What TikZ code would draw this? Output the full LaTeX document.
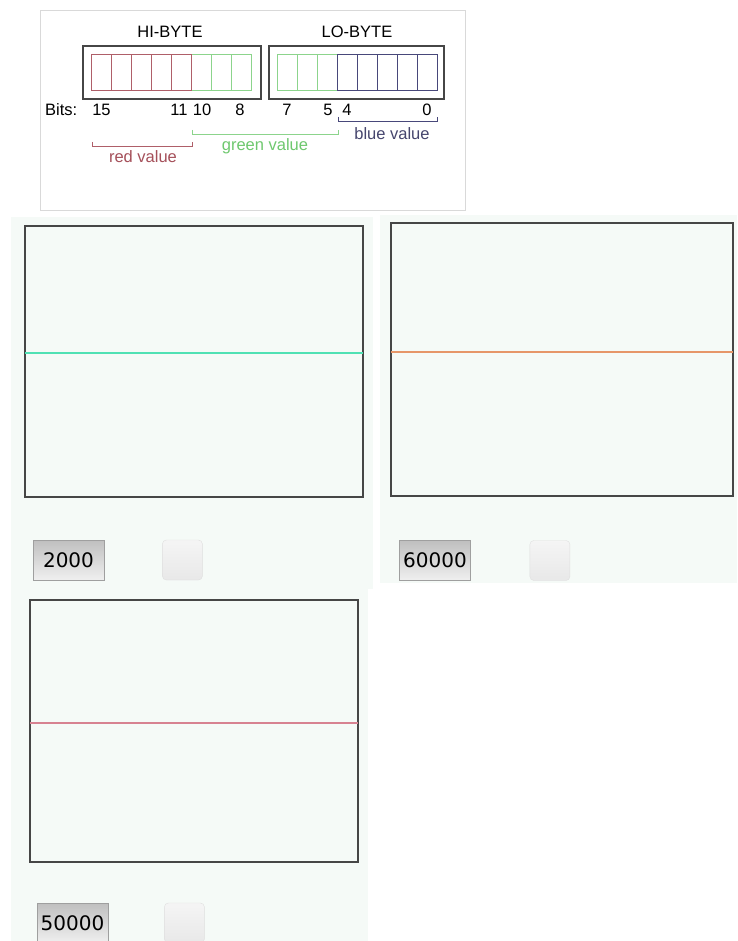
\documentclass[tikz,border=0pt]{standalone}
\usepackage{fontspec}
\setmainfont{Liberation Sans}
\newfontfamily\btnfont{DejaVu Sans}
\usetikzlibrary{positioning}

\definecolor{redbit}{RGB}{175,95,105}
\definecolor{greenbit}{RGB}{140,212,140}
\definecolor{bluebit}{RGB}{72,72,122}
\definecolor{redtxt}{RGB}{165,80,90}
\definecolor{greentxt}{RGB}{110,200,110}
\definecolor{bluetxt}{RGB}{70,70,110}
\definecolor{panelbg}{RGB}{245,250,247}
\definecolor{framegray}{RGB}{70,70,70}
\definecolor{traceA}{RGB}{80,225,180}
\definecolor{traceB}{RGB}{230,150,105}
\definecolor{traceC}{RGB}{215,130,145}

\begin{document}
\begin{tikzpicture}[x=1pt,y=-1pt,
  lbl/.style={inner sep=0pt,anchor=base,font=\fontsize{16.5}{19}\selectfont},
  bytelbl/.style={inner sep=0pt,anchor=base,font=\fontsize{16.5}{19}\selectfont},
  chart/.style={draw=framegray,fill=panelbg,line width=1.1pt},
  trace/.style={line width=1.4pt},
  valbtn/.style={draw=gray!75,top color=gray!50,bottom color=gray!12,
    minimum width=71pt,minimum height=40pt,inner sep=0pt,
    font=\btnfont\fontsize{20}{24}\selectfont},
  sqbtn/.style={draw=gray!25,rounded corners=4pt,top color=gray!8,bottom color=gray!18,
    minimum width=40pt,minimum height=40pt,inner sep=0pt}]
  \useasboundingbox[fill=white] (0,0) rectangle (737,941);

  % bit layout picture
  \draw[gray!30,fill=white] (40,10) rectangle (465,210);
  \draw[framegray,line width=1.2pt] (83,46) rectangle (261,99);
  \draw[framegray,line width=1.2pt] (269,46) rectangle (444,99);
  \foreach \i in {5,6,7} \draw[greenbit,line width=0.9pt] ({91+20*\i},54) rectangle ++(20,36);
  \foreach \i in {0,1,2} \draw[greenbit,line width=0.9pt] ({277+20*\i},54) rectangle ++(20,36);
  \foreach \i in {0,...,4} \draw[redbit,line width=0.9pt] ({91+20*\i},54) rectangle ++(20,36);
  \foreach \i in {3,...,7} \draw[bluebit,line width=0.9pt] ({277+20*\i},54) rectangle ++(20,36);
  \node[bytelbl] (hi) at (170,37.5) {HI-BYTE};
  \node[bytelbl] (lo) at (357,37.5) {LO-BYTE};
  \node[lbl,anchor=base west] (bits) at (45,115.5) {Bits:};
  \foreach \x/\n in {101.5/15,179/11,202/10,240/8,287/7,328/5,347/4,427/0}
    \node[lbl] (b\n) at (\x,115.5) {\n};
  \draw[bluebit,line width=1pt] (338,117) |- (437,122) -- (437,117);
  \draw[greenbit,line width=1pt] (192,130) |- (338,135) -- (338,130);
  \draw[redbit,line width=1pt] (92,142) |- (192,147) -- (192,142);
  \node[lbl,text=bluetxt] (blue) at (392,140) {blue value};
  \node[lbl,text=greentxt] (green) at (265,151) {green value};
  \node[lbl,text=redtxt] (red) at (143,162.5) {red value};

  % first panel
  \fill[panelbg] (11,217) rectangle (373,589);
  \draw[chart] (25,226) rectangle (363,497);
  \draw[trace,traceA] (25,353) -- (363,353);
  \node[valbtn] (btnA) at (68.5,560) {2000};
  \node[sqbtn,right=58pt of btnA] (sqA) {};

  % second panel
  \fill[panelbg] (380,215) rectangle (737,583);
  \draw[chart] (391,223) rectangle (733,496);
  \draw[trace,traceB] (391,352) -- (733,352);
  \node[valbtn] (btnB) at (435,560.5) {60000};
  \node[sqbtn,right=59pt of btnB] (sqB) {};

  % third panel
  \fill[panelbg] (11,589) rectangle (368,941);
  \draw[chart] (30,600) rectangle (358,862);
  \draw[trace,traceC,line width=1.1pt] (30,723) -- (358,723);
  \node[valbtn] (btnC) at (72.5,923) {50000};
  \node[sqbtn,right=56pt of btnC] (sqC) {};
\end{tikzpicture}
\end{document}
